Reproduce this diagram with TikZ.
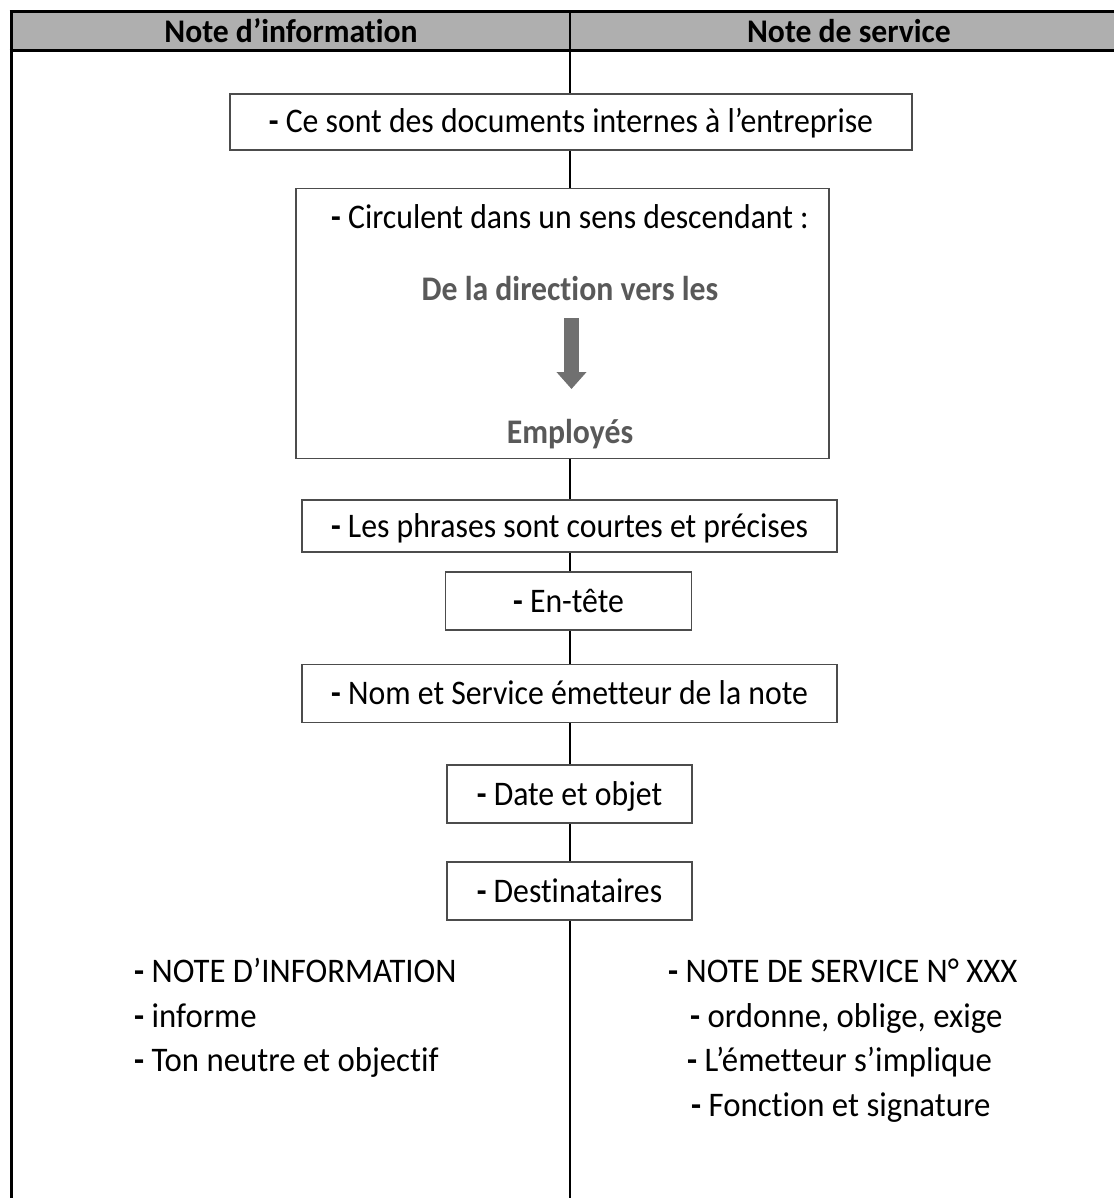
\documentclass[tikz,border=0pt]{standalone}
\usepackage{fontspec}
\setmainfont{Carlito}[FakeStretch=0.92,Ligatures=NoCommon]
\newfontfamily\hdrfont{Carlito}[FakeStretch=0.96,Ligatures=NoCommon]
\newfontfamily\listfont{Carlito}[FakeStretch=0.95,Ligatures=NoCommon]
\usetikzlibrary{arrows.meta}
\definecolor{hdrgray}{HTML}{AFAFAF}
\definecolor{txtgray}{HTML}{595959}
\definecolor{arrgray}{HTML}{707070}
\tikzset{
  bodyfont/.style={font=\fontsize{34.5}{40}\selectfont},
  box/.style={draw=black!70, line width=1.5pt, fill=white, inner sep=0pt,
    text height=24pt, text depth=2pt, bodyfont},
  item/.style={anchor=base west, inner sep=0pt, font=\listfont\fontsize{34.5}{40}\selectfont},
  ctext/.style={anchor=base, inner sep=0pt, bodyfont},
  graybold/.style={anchor=base, inner sep=0pt, text=txtgray, font=\bfseries\fontsize{34.5}{40}\selectfont},
  hdr/.style={anchor=base, inner sep=0pt, font=\hdrfont\bfseries\fontsize{33}{36}\selectfont},
  frame/.style={line width=3pt, black},
  divider/.style={line width=1.6pt, black},
}
\newcommand{\dsh}{\textbf{-} }
\begin{document}
\begin{tikzpicture}[x=1pt,y=-1pt]
\useasboundingbox (0,0) rectangle (1114,1198);
% header
\fill[hdrgray] (11,12) rectangle (1114,51);
\coordinate (dtop) at (570,12);
\coordinate (dbot) at (570,1198);
\coordinate (ltop) at (11,10.5);
\coordinate (lbot) at (11,1198);
\draw[divider] (dtop) -- (dbot);
\draw[frame] (ltop) -- (lbot);
\draw[frame] (9.5,12) -- (1114,12);
\draw[frame] (9.5,51) -- (1114,51);
\node[hdr] (h1) at (291,42.3) {Note d’information};
\node[hdr] (h2) at (849,42.3) {Note de service};
% boxes
\node[box, minimum width=682pt, minimum height=56pt] (b1) at (571,122) {\dsh Ce sont des documents internes à l’entreprise};
\node[box, minimum width=533pt, minimum height=270pt] (b2) at (562.5,323.5) {};
\node[ctext] (b2a) at (570,228.5) {\dsh Circulent dans un sens descendant :};
\node[graybold] (b2b) at (570,300) {De la direction vers les};
\coordinate (arrtop) at (571.5,318);
\coordinate (arrbot) at (571.5,389);
\draw[arrgray, line width=14.5pt, -{Triangle[width=29pt,length=17pt]}] (arrtop) -- (arrbot);
\node[graybold] (b2c) at (570,443.3) {Employés};
\node[box, minimum width=535pt, minimum height=52pt] (b3) at (569.5,526) {\dsh Les phrases sont courtes et précises};
\node[box, minimum width=246pt, minimum height=58pt] (b4) at (568.5,601) {\dsh En-tête};
\node[box, minimum width=535pt, minimum height=58pt] (b5) at (569.5,693.5) {\dsh Nom et Service émetteur de la note};
\node[box, minimum width=245pt, minimum height=58pt] (b6) at (569.5,794) {\dsh Date et objet};
\node[box, minimum width=245pt, minimum height=58pt] (b7) at (569.5,891) {\dsh Destinataires};
% bottom lists
\node[item] (l1) at (134,982.5) {\dsh NOTE D’INFORMATION};
\node[item] (l2) at (134,1027) {\dsh informe};
\node[item] (l3) at (134,1071.5) {\dsh Ton neutre et objectif};
\node[item] (r1) at (668,982.5) {\dsh NOTE DE SERVICE N° XXX};
\node[item] (r2) at (690,1027) {\dsh ordonne, oblige, exige};
\node[item] (r3) at (687,1071.5) {\dsh L’émetteur s’implique};
\node[item] (r4) at (691,1116.5) {\dsh Fonction et signature};
\end{tikzpicture}
\end{document}
